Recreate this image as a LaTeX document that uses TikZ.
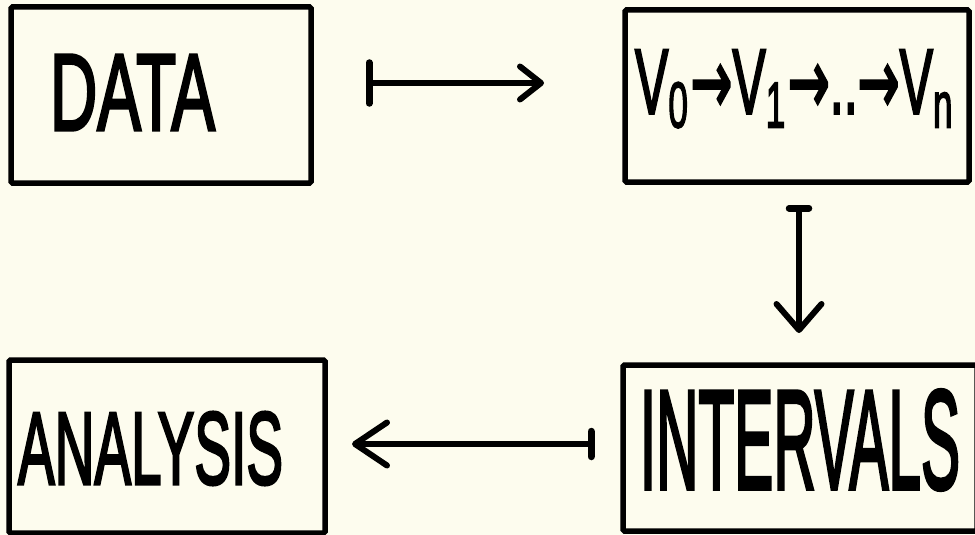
\documentclass[tikz,border=0pt]{standalone}
\usepackage{fontspec}
\usepackage{graphicx}
\setmainfont{Liberation Sans}
\newfontfamily\handfont{Liberation Sans}[FakeBold=3]
\newfontfamily\dvfont{DejaVu Sans}[FakeBold=3]
\usetikzlibrary{arrows.meta}
\definecolor{paper}{HTML}{FDFCEE}
\begin{document}
\begin{tikzpicture}[x=1pt,y=-1pt,
  box/.style={draw=black, line width=5.5pt, rounded corners=1.5pt, inner sep=0pt, fill=none},
  lbl/.style={inner sep=0pt, outer sep=0pt, font=\handfont},
  conn/.style={line width=5.5pt, line cap=round}]
\useasboundingbox (0,0) rectangle (975,535);
\fill[paper] (0,0) rectangle (975,535);
\begin{scope}
\clip (0,0) rectangle (975,535);
% boxes
\node[box, minimum width=300pt, minimum height=176pt] (data) at (161,95) {};
\node[box, minimum width=344pt, minimum height=172pt] (vbox) at (797,96) {};
\node[box, minimum width=316pt, minimum height=173pt] (analysis) at (167,446.5) {};
\node[box, minimum width=354pt, minimum height=166pt] (intervals) at (800,448) {};
\end{scope}
% labels
\node[lbl] (datat) at (132.5,92.5) {\resizebox*{165pt}{75pt}{DATA}};
\node[lbl] (vt) at (795,89) {\resizebox*{320pt}{78pt}{V\textsubscript{0}{\dvfont →}V\textsubscript{1}{\dvfont →}..{\dvfont →}V\textsubscript{n}}};
\node[lbl] (analysist) at (150.5,448.5) {\resizebox*{265pt}{73pt}{ANALYSIS}};
\node[lbl] (intervalst) at (800,440) {\resizebox*{320pt}{100pt}{INTERVALS}};
% connector end points
\coordinate (a1s) at (366,83);
\coordinate (a1e) at (544,83);
\coordinate (a2s) at (799,205);
\coordinate (a2e) at (799,333);
\coordinate (a3s) at (595,444);
\coordinate (a3e) at (352,444);
\draw[conn, {Bar[width=41pt, line width=6.5pt, round]}-{Straight Barb[length=21pt, width=33pt, line width=6pt, round]}] (a1s) -- (a1e);
\draw[conn, {Bar[width=20pt, line width=6.5pt, round]}-{Straight Barb[length=26pt, width=45pt, line width=6pt, round]}] (a2s) -- (a2e);
\draw[conn, {Bar[width=25pt, line width=7.5pt, round]}-{Straight Barb[length=32pt, width=43pt, line width=6pt, round]}] (a3s) -- (a3e);
\end{tikzpicture}
\end{document}
